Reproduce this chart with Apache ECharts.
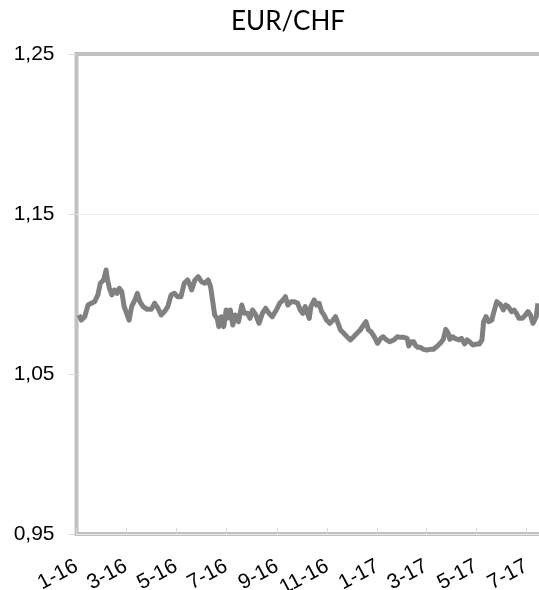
<!DOCTYPE html>
<html>
<head>
<meta charset="utf-8">
<title>EUR/CHF</title>
<script src="https://cdn.jsdelivr.net/npm/echarts@6/dist/echarts.min.js"></script>
<style>
  html, body { margin: 0; padding: 0; background: #fff; }
  #lineChart { width: 539px; height: 590px; }
</style>
</head>
<body>
<div id="lineChart"></div>
<script>
// EUR/CHF (about every 3-4 days)
var dates = [
  "2016-01-04", "2016-01-07", "2016-01-11", "2016-01-15", "2016-01-19", "2016-01-23", "2016-01-27", "2016-01-30",
  "2016-02-03", "2016-02-06", "2016-02-07", "2016-02-10", "2016-02-13", "2016-02-16", "2016-02-19", "2016-02-22",
  "2016-02-25", "2016-02-28", "2016-03-02", "2016-03-05", "2016-03-08", "2016-03-12", "2016-03-15", "2016-03-18",
  "2016-03-22", "2016-03-27", "2016-04-01", "2016-04-05", "2016-04-09", "2016-04-13", "2016-04-17", "2016-04-21",
  "2016-04-25", "2016-04-29", "2016-05-03", "2016-05-07", "2016-05-11", "2016-05-15", "2016-05-18", "2016-05-20",
  "2016-05-24", "2016-05-28", "2016-06-01", "2016-06-05", "2016-06-09", "2016-06-12", "2016-06-15", "2016-06-17",
  "2016-06-20", "2016-06-22", "2016-06-25", "2016-06-28", "2016-07-01", "2016-07-03", "2016-07-06", "2016-07-09",
  "2016-07-12", "2016-07-16", "2016-07-20", "2016-07-23", "2016-07-27", "2016-07-30", "2016-08-02", "2016-08-06",
  "2016-08-10", "2016-08-14", "2016-08-18", "2016-08-22", "2016-08-26", "2016-08-31", "2016-09-04", "2016-09-08",
  "2016-09-11", "2016-09-14", "2016-09-18", "2016-09-22", "2016-09-26", "2016-09-29", "2016-10-02", "2016-10-05",
  "2016-10-07", "2016-10-10", "2016-10-12", "2016-10-16", "2016-10-19", "2016-10-22", "2016-10-25", "2016-10-28",
  "2016-10-31", "2016-11-04", "2016-11-08", "2016-11-11", "2016-11-14", "2016-11-17", "2016-11-21", "2016-11-25",
  "2016-11-29", "2016-12-03", "2016-12-07", "2016-12-11", "2016-12-15", "2016-12-18", "2016-12-21", "2016-12-24",
  "2016-12-28", "2017-01-01", "2017-01-05", "2017-01-08", "2017-01-10", "2017-01-12", "2017-01-16", "2017-01-21",
  "2017-01-25", "2017-01-29", "2017-02-02", "2017-02-06", "2017-02-08", "2017-02-11", "2017-02-14", "2017-02-16",
  "2017-02-19", "2017-02-22", "2017-02-26", "2017-03-02", "2017-03-06", "2017-03-10", "2017-03-13", "2017-03-16",
  "2017-03-19", "2017-03-22", "2017-03-25", "2017-03-28", "2017-03-30", "2017-04-02", "2017-04-05", "2017-04-10",
  "2017-04-13", "2017-04-17", "2017-04-20", "2017-04-23", "2017-04-27", "2017-04-29", "2017-05-02", "2017-05-05",
  "2017-05-08", "2017-05-10", "2017-05-13", "2017-05-16", "2017-05-20", "2017-05-22", "2017-05-26", "2017-05-28",
  "2017-05-31", "2017-06-03", "2017-06-06", "2017-06-09", "2017-06-13", "2017-06-16", "2017-06-19", "2017-06-22",
  "2017-06-26", "2017-06-30", "2017-07-03", "2017-07-06", "2017-07-09", "2017-07-13", "2017-07-15"
];
var rates = [
  1.0869, 1.0837, 1.0858, 1.0931, 1.0942, 1.0952, 1.0994, 1.1067,
  1.1088, 1.1150, 1.1108, 1.1036, 1.0994, 1.1025, 1.1004, 1.1036,
  1.1015, 1.0921, 1.0879, 1.0837, 1.0921, 1.0963, 1.1004, 1.0952,
  1.0921, 1.0904, 1.0904, 1.0942, 1.0911, 1.0869, 1.0890, 1.0921,
  1.0994, 1.1004, 1.0983, 1.0983, 1.1067, 1.1088, 1.1056, 1.1025,
  1.1088, 1.1108, 1.1077, 1.1067, 1.1088, 1.1046, 1.0942, 1.0869,
  1.0848, 1.0796, 1.0858, 1.0796, 1.0900, 1.0850, 1.0900, 1.0806,
  1.0869, 1.0827, 1.0931, 1.0879, 1.0879, 1.0848, 1.0900, 1.0869,
  1.0817, 1.0879, 1.0911, 1.0879, 1.0858, 1.0900, 1.0942, 1.0963,
  1.0983, 1.0931, 1.0952, 1.0952, 1.0942, 1.0900, 1.0879, 1.0921,
  1.0911, 1.0848, 1.0921, 1.0963, 1.0931, 1.0942, 1.0890, 1.0869,
  1.0837, 1.0817, 1.0837, 1.0858, 1.0817, 1.0775, 1.0754, 1.0733,
  1.0713, 1.0733, 1.0754, 1.0775, 1.0806, 1.0827, 1.0775, 1.0765,
  1.0733, 1.0692, 1.0723, 1.0733, 1.0744, 1.0713, 1.0702, 1.0713,
  1.0733, 1.0729, 1.0729, 1.0723, 1.0675, 1.0702, 1.0702, 1.0681,
  1.0667, 1.0667, 1.0654, 1.0650, 1.0654, 1.0654, 1.0667, 1.0681,
  1.0696, 1.0717, 1.0779, 1.0754, 1.0717, 1.0733, 1.0723, 1.0713,
  1.0723, 1.0688, 1.0713, 1.0702, 1.0681, 1.0675, 1.0688, 1.0688,
  1.0713, 1.0827, 1.0858, 1.0827, 1.0837, 1.0879, 1.0952, 1.0963,
  1.0931, 1.0900, 1.0931, 1.0921, 1.0890, 1.0900, 1.0879, 1.0848,
  1.0848, 1.0869, 1.0890, 1.0869, 1.0817, 1.0858, 1.0942
];
var yTicks = [0.95, 1.05, 1.15, 1.25];
var monthTicks = [
  "2016-01-01", "2016-03-01", "2016-05-01", "2016-07-01", "2016-09-01",
  "2016-11-01", "2017-01-01", "2017-03-01", "2017-05-01", "2017-07-01"
];
var monthLabels = ["1-16", "3-16", "5-16", "7-16", "9-16", "11-16", "1-17", "3-17", "5-17", "7-17"];

var startDay = Date.UTC(2016, 0, 1);
function dayIndex(s) {
  var p = s.split("-");
  return (Date.UTC(+p[0], +p[1] - 1, +p[2]) - startDay) / 86400000;
}
var seriesData = dates.map(function (d, i) { return [dayIndex(d), rates[i]]; });
var tickDays = monthTicks.map(dayIndex);

var chart = echarts.init(document.getElementById("lineChart"));
var option = {
  animation: false,
  title: {
    text: "EUR/CHF",
    left: 283,
    top: 4,
    textAlign: "center",
    textStyle: { fontFamily: "Lato", fontSize: 26, fontWeight: "normal", color: "#000" }
  },
  grid: {
    // right side runs off the canvas, like the reference
    left: 76.5,
    right: -40,
    top: 54,
    bottom: 56,
    outerBoundsMode: "none",
    containLabel: false,
    show: true,
    borderColor: "#c0c0c0",
    borderWidth: 4
  },
  xAxis: {
    type: "value",
    min: 0,
    max: 611,
    axisLine: { show: false },
    splitLine: { show: false },
    axisTick: {
      show: true,
      inside: true,
      length: 6,
      customValues: tickDays,
      lineStyle: { color: "#d9d9d9" }
    },
    axisLabel: {
      customValues: tickDays,
      rotate: 28,
      margin: 31,
      fontFamily: "Liberation Sans",
      fontSize: 21,
      color: "#000",
      formatter: function (value) {
        var i = tickDays.indexOf(Math.round(value));
        return i >= 0 ? monthLabels[i] : "";
      }
    }
  },
  yAxis: {
    type: "value",
    min: 0.95,
    max: 1.25,
    interval: 0.05,
    axisLine: { show: false },
    axisTick: {
      show: true,
      length: 8,
      customValues: yTicks,
      lineStyle: { color: "#d9d9d9" }
    },
    splitLine: {
      show: true,
      lineStyle: { color: ["#ebebeb", "rgba(0,0,0,0)"], width: 1 }
    },
    axisLabel: {
      customValues: yTicks,
      margin: 22,
      fontFamily: "Liberation Sans",
      fontSize: 21,
      color: "#000",
      formatter: function (value) {
        return value.toFixed(2).replace(".", ",");
      }
    }
  },
  series: [
    {
      type: "line",
      data: seriesData,
      showSymbol: false,
      lineStyle: { color: "#808080", width: 5, join: "round" }
    }
  ]
};
chart.setOption(option);
</script>
</body>
</html>
